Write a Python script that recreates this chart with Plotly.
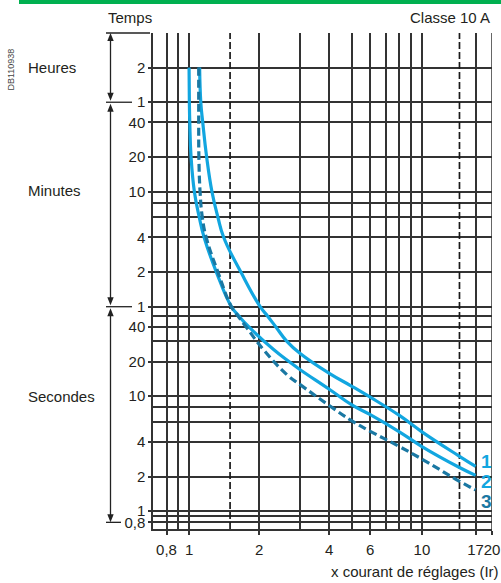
import math
import plotly.graph_objects as go

# ---------------- data ----------------
# x : multiple of setting current (Ir) ; t : tripping time in seconds
c1_x = [1.11, 1.123, 1.145, 1.19, 1.254, 1.33, 1.409, 1.669, 2.02, 2.18, 2.36, 2.63, 3.0, 4.0, 5.0, 6.0, 8.0, 10.0, 14.5, 17.0]
c1_t = [7200, 3600, 2400, 1200, 600, 360, 240, 120, 60, 49.4, 40, 30, 23.5, 15.8, 12.2, 9.8, 6.8, 4.9, 3.0, 2.45]

c2_x = [1.0, 1.003, 1.007, 1.02, 1.054, 1.106, 1.161, 1.31, 1.52, 1.634, 1.807, 2.30, 2.65, 3.0, 4.0, 5.0, 6.0, 8.0, 10.0, 14.5, 17.0]
c2_t = [7200, 3600, 2400, 1200, 600, 360, 240, 120, 60, 50, 40, 25.6, 20.4, 17.0, 11.5, 8.4, 6.9, 4.9, 3.65, 2.4, 2.05]

c3_x = [1.10, 1.10, 1.10, 1.102, 1.115, 1.14, 1.185, 1.33, 1.52, 1.62, 1.76, 2.08, 2.65, 3.0, 4.0, 5.0, 6.0, 8.0, 10.0, 14.5, 17.0]
c3_t = [7200, 3600, 2400, 1200, 600, 360, 240, 120, 60, 50, 40, 25.6, 15.2, 12.6, 8.3, 6.1, 4.95, 3.65, 2.84, 1.82, 1.53]

curve_names = ["1", "2", "3"]

x_major = [0.8, 1, 2, 4, 6, 10, 17, 20]
x_major_text = ["0,8", "1", "2", "4", "6", "10", "17", "20"]
x_minor = [0.9, 3, 5, 7, 8, 9]
x_dashed = [1.5, 14.5]
x_range = [0.7, 20]

y_major = [0.8, 1, 2, 4, 10, 20, 40, 60, 120, 240, 600, 1200, 2400, 3600, 7200]
y_major_text = ["0,8", "1", "2", "4", "10", "20", "40", "1", "2", "4", "10", "20", "40", "1", "2"]
y_minor = [0.9, 6, 8, 30, 50, 360, 480]
y_range = [0.7, 14400]

# unit bands (seconds): Heures, Minutes, Secondes
band_names = ["Heures", "Minutes", "Secondes"]
band_limits = [(14400, 3600), (3600, 60), (60, 0.8)]
band_label_at = [7200, 620, 10]

# ---------------- styling ----------------
FONT = "Liberation Sans, Arial, sans-serif"
TXT = "#231f20"
GRID = "#333333"
BLUE = "#12a6e0"
DARK = "#1a78a3"

L, R, T, B = 153, 9, 33, 54
W, H = 501, 583
PW, PH = W - L - R, H - T - B

ymin, ymax = math.log10(y_range[0]), math.log10(y_range[1])


def xp(px):
    return (px - L) / PW


def yp_px(py):
    return (T + PH - py) / PH


def yp(v):
    return (math.log10(v) - ymin) / (ymax - ymin)


fig = go.Figure()

# dashed reference verticals
for xv in x_dashed:
    fig.add_trace(go.Scatter(x=[xv, xv], y=y_range, mode="lines",
                             line=dict(color="#1a1a1a", width=1.7, dash="7px,3px"),
                             hoverinfo="skip", showlegend=False))
# right frame line
fig.add_trace(go.Scatter(x=[x_range[1], x_range[1]], y=y_range, mode="lines",
                         line=dict(color=GRID, width=1.5), hoverinfo="skip", showlegend=False))

series = [(c1_x, c1_t, BLUE, "solid"), (c2_x, c2_t, BLUE, "solid"), (c3_x, c3_t, DARK, "8px,4px")]
for (xs, ts, col, dash), nm in zip(series, curve_names):
    fig.add_trace(go.Scatter(x=xs, y=ts, mode="lines", name=nm,
                             line=dict(color=col, width=3.2, dash=dash, shape="spline", smoothing=1.3),
                             showlegend=False))

# curve number labels
label_shift = [5, -6, -12]
label_col = [BLUE, BLUE, DARK]
for (xs, ts, col, dash), nm, sh, lc in zip(series, curve_names, label_shift, label_col):
    fig.add_annotation(x=math.log10(xs[-1]), y=math.log10(ts[-1]), xref="x", yref="y",
                       text="<b>%s</b>" % nm, showarrow=False, xanchor="left", xshift=3, yshift=sh,
                       font=dict(family=FONT, size=19, color=lc))

shapes = []
# green top bar
shapes.append(dict(type="rect", xref="paper", yref="paper", x0=xp(19), x1=xp(501),
                   y0=yp_px(4), y1=yp_px(0), fillcolor="#00b050", line=dict(width=0), layer="above"))

# left arrows for unit bands
ax_x = xp(110.5)
hw = 3.2 / PW
hl = 8.0 / PH
gap = 1.5 / PH
for top, bot in band_limits:
    yt = yp(top) - gap
    yb = yp(bot) + gap
    if bot == band_limits[-1][1]:
        yb = yp(bot)
    if top == band_limits[0][0]:
        yt = yp(top)
    shapes.append(dict(type="line", xref="paper", yref="paper", x0=ax_x, x1=ax_x,
                       y0=yb + hl * 0.5, y1=yt - hl * 0.5, line=dict(color="#222", width=1.3)))
    shapes.append(dict(type="path", xref="paper", yref="paper",
                       path="M %f,%f L %f,%f L %f,%f Z" % (ax_x, yt, ax_x - hw, yt - hl, ax_x + hw, yt - hl),
                       fillcolor="#222", line=dict(width=0)))
    shapes.append(dict(type="path", xref="paper", yref="paper",
                       path="M %f,%f L %f,%f L %f,%f Z" % (ax_x, yb, ax_x - hw, yb + hl, ax_x + hw, yb + hl),
                       fillcolor="#222", line=dict(width=0)))

# short horizontal limit lines at left
limit_lines = [(y_range[1], 106, 150), (3600, 106, 132), (60, 106, 132), (0.8, 106, 121)]
for v, a, b in limit_lines:
    shapes.append(dict(type="line", xref="paper", yref="paper", x0=xp(a), x1=xp(b),
                       y0=yp(v), y1=yp(v), line=dict(color="#222", width=1.3)))

annotations = []
for nm, v in zip(band_names, band_label_at):
    annotations.append(dict(xref="paper", yref="paper", x=xp(26), y=yp(v), text=nm, showarrow=False,
                            xanchor="left", yanchor="middle", font=dict(family=FONT, size=15, color=TXT)))
annotations.append(dict(xref="paper", yref="paper", x=xp(106), y=yp_px(17), text="Temps", showarrow=False,
                        xanchor="left", yanchor="middle", font=dict(family=FONT, size=15, color=TXT)))
annotations.append(dict(xref="paper", yref="paper", x=xp(492), y=yp_px(17), text="Classe 10 A", showarrow=False,
                        xanchor="right", yanchor="middle", font=dict(family=FONT, size=15, color=TXT)))
annotations.append(dict(xref="paper", yref="paper", x=xp(501), y=yp_px(571), text="x courant de réglages (Ir)",
                        showarrow=False, xanchor="right", yanchor="middle",
                        font=dict(family=FONT, size=15, color=TXT)))
annotations.append(dict(xref="paper", yref="paper", x=xp(10.5), y=yp_px(70), text="DB110938", showarrow=False,
                        textangle=-90, xanchor="center", yanchor="middle",
                        font=dict(family=FONT, size=9, color="#444")))
for a in annotations:
    fig.add_annotation(**a)

fig.update_layout(
    width=W, height=H, autosize=False,
    margin=dict(l=L, r=R, t=T, b=B, pad=0, autoexpand=False),
    paper_bgcolor="white", plot_bgcolor="white",
    shapes=shapes, showlegend=False,
    font=dict(family=FONT, size=15, color=TXT),
    xaxis=dict(type="log", range=[math.log10(x_range[0]), math.log10(x_range[1])],
               automargin=False,
               tickmode="array", tickvals=x_major, ticktext=x_major_text, tickangle=0,
               ticks="outside", ticklen=4, tickwidth=1.5, tickcolor=GRID,
               showgrid=True, gridcolor=GRID, gridwidth=1.5,
               showline=True, linecolor=GRID, linewidth=1.5, zeroline=False,
               ticklabelstandoff=2,
               minor=dict(tickmode="array", tickvals=x_minor, showgrid=True, gridcolor=GRID,
                          gridwidth=1.5, ticks=""),
               tickfont=dict(family=FONT, size=15, color=TXT)),
    yaxis=dict(type="log", range=[ymin, ymax],
               automargin=False,
               tickmode="array", tickvals=y_major, ticktext=y_major_text,
               ticks="outside", ticklen=3, tickwidth=1.5, tickcolor=GRID,
               showgrid=True, gridcolor=GRID, gridwidth=1.5,
               showline=True, linecolor=GRID, linewidth=1.5, zeroline=False,
               minor=dict(tickmode="array", tickvals=y_minor, showgrid=True, gridcolor=GRID,
                          gridwidth=1.5, ticks=""),
               tickfont=dict(family=FONT, size=15, color=TXT)),
)

fig.write_html("out.html", config={"displayModeBar": False},
               post_script="document.body.style.margin='0';document.body.style.overflow='hidden';")
